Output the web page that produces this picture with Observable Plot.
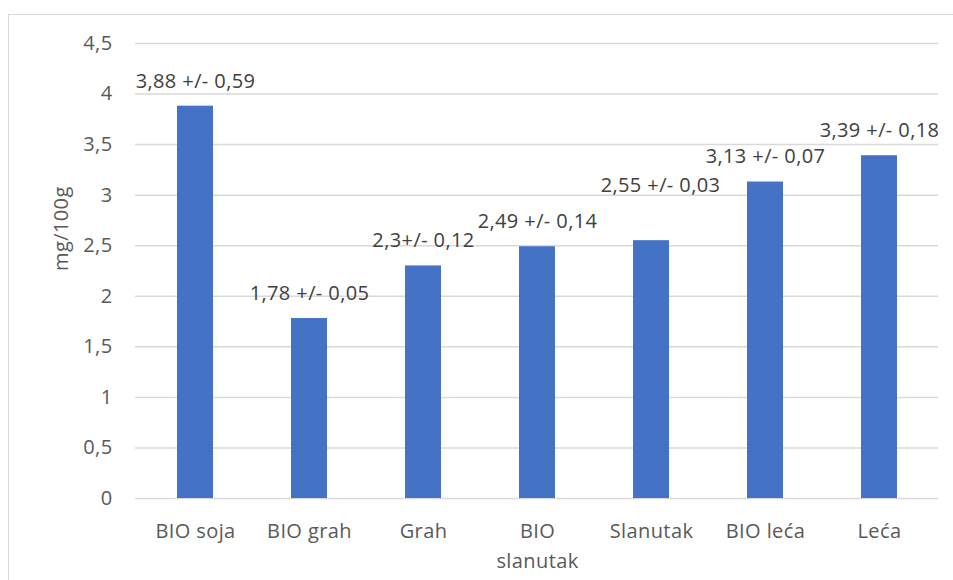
<!DOCTYPE html>
<html>
<head>
<meta charset="utf-8">
<script src="https://cdn.jsdelivr.net/npm/d3@7"></script>
<script src="https://cdn.jsdelivr.net/npm/@observablehq/plot@0.6"></script>
<style>
  html, body { margin: 0; padding: 0; background: #fff; }
  #wrap { position: relative; width: 953px; height: 580px; overflow: hidden; }
  #frame { position: absolute; left: 8px; top: 14px; width: 980px; height: 620px; border: 1.5px solid #d9d9d9; box-sizing: border-box; }
  #chart { position: absolute; left: 0; top: 0; }
  #chart text { letter-spacing: 0.4px; }
</style>
</head>
<body>
<div id="wrap"><div id="frame"></div><div id="chart"></div></div>
<script>
const categories = ["BIO soja", "BIO grah", "Grah", "BIO slanutak", "Slanutak", "BIO leća", "Leća"];
const values = [3.88, 1.78, 2.3, 2.49, 2.55, 3.13, 3.39];
const labels = ["3,88 +/- 0,59", "1,78 +/- 0,05", "2,3+/- 0,12", "2,49 +/- 0,14", "2,55 +/- 0,03", "3,13 +/- 0,07", "3,39 +/- 0,18"];
const yTicks = [0, 0.5, 1, 1.5, 2, 2.5, 3, 3.5, 4, 4.5];
const xTickLabels = {"BIO slanutak": "BIO\nslanutak"};
const yTitle = "mg/100g";
// the one data label moved by hand in the original to avoid overlapping its neighbour
const movedLabel = "Slanutak";

const data = categories.map((c, i) => ({cat: c, value: values[i], label: labels[i]}));
const fmt = v => String(v).replace(".", ",");
const font = "'Open Sans', sans-serif";
const labelStyle = {x: "cat", y: "value", text: "label", fill: "#404040", fontSize: 20};

const chart = Plot.plot({
  width: 953,
  height: 580,
  marginLeft: 135,
  marginRight: 15,
  marginTop: 43,
  marginBottom: 82,
  style: {fontFamily: font, fontSize: "20px", background: "transparent"},
  x: {domain: categories, paddingInner: 0.686, paddingOuter: 0.343, align: 0.5},
  y: {domain: [0, 4.5]},
  marks: [
    Plot.gridY(yTicks, {stroke: "#d9d9d9", strokeOpacity: 1, strokeWidth: 1.5}),
    Plot.barY(data, {x: "cat", y: "value", fill: "#4472C4"}),
    Plot.text(data.filter(d => d.cat !== movedLabel), {...labelStyle, dy: -25}),
    Plot.text(data.filter(d => d.cat === movedLabel), {...labelStyle, dy: -55, dx: 9}),
    Plot.axisY(yTicks, {tickSize: 0, tickPadding: 23, tickFormat: fmt, fill: "#595959", fontSize: 20, label: null}),
    Plot.text([yTitle], {text: d => d, frameAnchor: "left", rotate: -90, dx: -74, fill: "#595959", fontSize: 20}),
    Plot.axisX({tickSize: 0, tickPadding: 19, tickFormat: d => xTickLabels[d] ?? d, fill: "#595959", fontSize: 20, lineHeight: 1.465, label: null})
  ]
});
document.getElementById("chart").appendChild(chart);
</script>
</body>
</html>
